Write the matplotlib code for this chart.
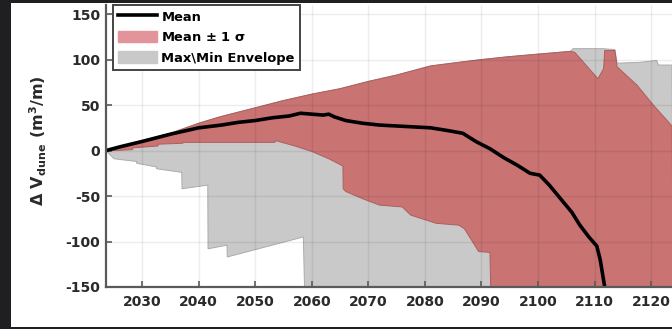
import numpy as np
import matplotlib
matplotlib.use('Agg')
import matplotlib.pyplot as plt
from matplotlib.patches import Patch, Rectangle
from matplotlib.lines import Line2D

# Mean dune volume change (breakpoints: year, m^3/m)
mean_years = [2023.6, 2026, 2030, 2035, 2040, 2044, 2047, 2050, 2053, 2056, 2058, 2060,
              2062, 2063, 2064, 2066, 2069, 2072, 2075, 2078, 2081, 2084, 2086.7, 2089,
              2091.5, 2094, 2096.3, 2098.6, 2100.3, 2102, 2104.4, 2106, 2107.4, 2109,
              2110.4, 2111, 2111.8, 2112.2]
mean_vals = [0, 4, 10, 18, 25, 28, 31, 33, 36, 38, 41, 40,
             39, 40, 37, 33, 30, 28, 27, 26, 25, 22, 19, 10,
             2, -8, -16, -25, -27, -38, -56, -68, -82, -95,
             -105, -120, -150, -170]

# Mean + 1 sigma
upper_years = [2023.6, 2030, 2035, 2040, 2043.7, 2050, 2055, 2060, 2065, 2070, 2075,
               2081, 2086, 2090, 2094.5, 2100, 2105.7, 2106.5, 2110.6, 2111.6, 2111.8,
               2113.6, 2114, 2117.5, 2120.4, 2123.7]
upper_vals = [0, 11, 19, 30, 37, 47, 55, 62, 68, 76, 83,
              93, 97, 100, 103, 106, 109, 108, 79, 90, 110,
              110, 92, 72, 50, 27]

# Mean - 1 sigma
lower_years = [2023.6, 2025, 2028.3, 2028.35, 2032.8, 2032.85, 2037.2, 2037.25, 2053.5,
               2053.55, 2057, 2060, 2063, 2065.5, 2065.55, 2066, 2069, 2072, 2076,
               2077.5, 2080, 2082, 2086, 2087, 2089.5, 2091.5, 2091.8, 2124]
lower_vals = [0, 0, 1, 3, 5, 7, 8, 9, 9,
              11, 5, -1, -9, -17, -42, -45, -53, -60, -62,
              -71, -76, -80, -82, -86, -111, -112, -200, -200]

# Max / min envelope
max_years = [2023.6, 2030, 2035, 2040, 2043.7, 2050, 2055, 2060, 2065, 2070, 2075,
             2081, 2086, 2090, 2094.5, 2100, 2105.7, 2106.2, 2111.5, 2113.6, 2114,
             2118, 2121, 2121.3, 2123.7]
max_vals = [0, 11, 19, 30, 37, 47, 55, 62, 68, 76, 83,
            93, 97, 100, 103, 106, 109, 112, 112, 111, 96,
            97, 99, 94, 94]
min_years = [2023.6, 2025, 2029, 2029.05, 2032.5, 2032.55, 2037, 2037.05, 2041.6,
             2041.65, 2045, 2045.05, 2058.5, 2058.9, 2124]
min_vals = [0, -9, -12, -14, -18, -20, -24, -42, -38,
            -108, -104, -117, -95, -200, -200]

xticks = np.arange(2030, 2121, 10)
yticks = np.arange(-150, 151, 50)

red = '#c97373'
grey = '#c9c9c9'
text_col = '#2a2a2a'

plt.rcParams['font.family'] = 'DejaVu Sans'
plt.rcParams['font.weight'] = 'bold'
plt.rcParams['mathtext.default'] = 'bf'
plt.rcParams['axes.unicode_minus'] = False

fig = plt.figure(figsize=(6.72, 3.29), dpi=100)
ax = fig.add_axes([106 / 672, 1 - 287 / 329, 566 / 672, 282 / 329])

# envelope and +/- sigma band as closed polygons
ax.fill(np.r_[max_years, min_years[::-1]], np.r_[max_vals, min_vals[::-1]],
        facecolor=grey, edgecolor='#ababab', linewidth=0.7, zorder=1)
ax.fill(np.r_[upper_years, lower_years[::-1]], np.r_[upper_vals, lower_vals[::-1]],
        facecolor=red, edgecolor='#ad5e5e', linewidth=0.7, zorder=2)
ax.plot(mean_years, mean_vals, color='black', linewidth=2.6, zorder=3)

ax.set_xlim(2023.6, 2123.7)
ax.set_ylim(-150, 160)
ax.set_xticks(xticks)
ax.set_yticks(yticks)
ax.grid(True, color='black', alpha=0.07, linewidth=1.0, zorder=4)
ax.set_axisbelow(False)

for side in ['top', 'right']:
    ax.spines[side].set_visible(False)
for side in ['left', 'bottom']:
    ax.spines[side].set_color('#5a5a5a')
    ax.spines[side].set_linewidth(1.6)
    ax.spines[side].set_zorder(5)

ax.tick_params(direction='in', length=4, width=1.2, color='#5a5a5a',
               labelsize=10, labelcolor=text_col)
ax.tick_params(axis='x', pad=6)
ax.tick_params(axis='y', pad=4)

ax.set_ylabel(r'$\Delta$ $\mathbf{V}_{\mathbf{dune}}$ (m$^{\mathbf{3}}$/m)',
              fontsize=11.5, fontweight='bold', color=text_col)
ax.yaxis.set_label_coords(-0.1, 0.52)

handles = [Line2D([0], [0], color='black', linewidth=2.6),
           Patch(facecolor='#e3939a', edgecolor='#e3939a'),
           Patch(facecolor=grey, edgecolor=grey)]
labels = ['Mean', r'Mean $\pm$ 1 $\sigma$', 'Max\\Min Envelope']
leg = ax.legend(handles, labels, loc='upper left', bbox_to_anchor=(7 / 566, 1.0),
                borderaxespad=0, fontsize=9.4, handlelength=3.0, handleheight=1.0,
                labelspacing=0.55, handletextpad=0.3, borderpad=0.4,
                fancybox=False, framealpha=1, edgecolor='#444444')
leg.get_frame().set_linewidth(1.4)
leg.set_zorder(6)

# dark screen border around the figure
for x0, y0, w, h in [(0, 0, 11 / 672, 1), (0, 1 - 3 / 329, 1, 3 / 329), (0, 0, 1, 2.5 / 329)]:
    fig.patches.append(Rectangle((x0, y0), w, h, transform=fig.transFigure,
                                 facecolor='#1f1e20', edgecolor='none', zorder=10))

fig.savefig('out.png', dpi=100)
